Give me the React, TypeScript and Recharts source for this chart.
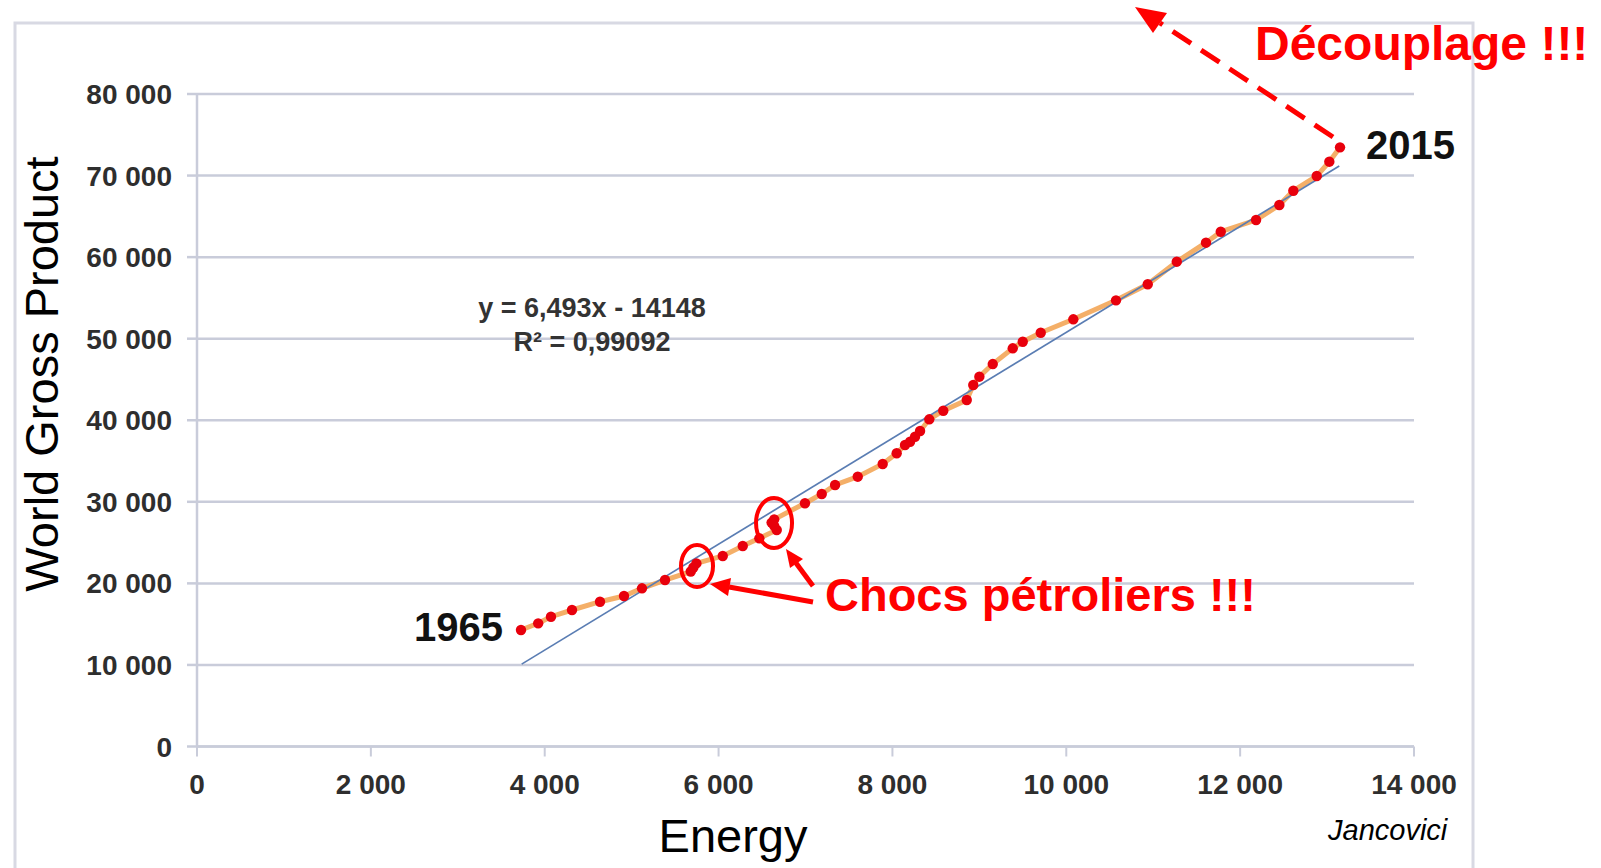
import React from 'react';
import {
  ComposedChart,
  Line,
  Scatter,
  XAxis,
  YAxis,
  CartesianGrid,
  ReferenceDot,
} from 'recharts';

// World energy vs world gross product, 1965 -> 2015
const energy = [
  3727, 3925, 4072, 4314, 4636, 4912, 5119, 5384,
  5680, 5710, 5745,
  6048, 6278, 6469,
  6669, 6640, 6610, 6640,
  6994, 7187, 7340, 7601, 7888, 8049, 8145, 8203, 8260, 8318,
  8424, 8585, 8855, 8930, 9000, 9154, 9384, 9499, 9706, 10081,
  10572, 10937, 11271, 11607, 11777, 12183, 12451, 12612, 12881, 13026, 13149,
];
const gdp = [
  14280, 15100, 15910, 16735, 17750, 18450, 19395, 20410,
  21450, 21950, 22450,
  23355, 24580, 25525,
  26540, 27050, 27450, 27850,
  29820, 30960, 32060, 33080, 34640, 35950, 36960, 37370, 37980, 38680,
  40115, 41170, 42480, 44320, 45340, 46890, 48820, 49630, 50730, 52375,
  54700, 56670, 59440, 61770, 63115, 64550, 66390, 68140, 69940, 71700, 73460,
];

// Linear trend y = 6,493x - 14148, end points as drawn
const trendEnergy = [3735, 13140];
const trendGdp = [10100, 71170];

// Oil shock circles (centres)
const shockEnergy = [5752, 6638];
const shockGdp = [22130, 27400];

const xTicks = [0, 2000, 4000, 6000, 8000, 10000, 12000, 14000];
const yTicks = [0, 10000, 20000, 30000, 40000, 50000, 60000, 70000, 80000];

const series = energy.map((e, i) => ({ energy: e, gdp: gdp[i] }));
const trend = trendEnergy.map((e, i) => ({ energy: e, gdp: trendGdp[i] }));

const FONT = '"Liberation Sans", Arial, sans-serif';
const GRID = '#c9ccda';
const RED = '#ff0000';

const fmt = (v: number) => v.toString().replace(/\B(?=(\d{3})+(?!\d))/g, ' ');

const YTick = ({ x, y, payload }: any) => (
  <text x={x} y={y} dy="0.36em" textAnchor="end" fontFamily={FONT} fontWeight="bold" fontSize={28} fill="#2e2e2e">
    {fmt(payload.value)}
  </text>
);

const XTick = ({ x, y, payload }: any) => (
  <text x={x} y={y} dy="0.71em" textAnchor="middle" fontFamily={FONT} fontWeight="bold" fontSize={28} fill="#2e2e2e">
    {fmt(payload.value)}
  </text>
);

const Dot = (p: any) => <circle cx={p.cx} cy={p.cy} r={5.2} fill="#e8000c" />;

const ellipse = (rx: number, ry: number) => (p: any) => (
  <ellipse cx={p.cx} cy={p.cy} rx={rx} ry={ry} fill="none" stroke={RED} strokeWidth={4} />
);

export default function App() {
  return (
    <div style={{ position: 'absolute', left: 0, top: 0, width: 1601, height: 868, background: '#fff' }}>
      <ComposedChart
        width={1601}
        height={868}
        margin={{ top: 94, right: 187, bottom: 61.5, left: 77 }}
      >
        <CartesianGrid horizontal vertical={false} stroke={GRID} strokeWidth={2.5} />
        <XAxis
          type="number"
          dataKey="energy"
          domain={[0, 14000]}
          ticks={xTicks}
          interval={0}
          height={60}
          tick={<XTick />}
          tickSize={10}
          tickMargin={18}
          axisLine={{ stroke: GRID, strokeWidth: 2.5 }}
          tickLine={{ stroke: GRID, strokeWidth: 2 }}
        />
        <YAxis
          type="number"
          dataKey="gdp"
          domain={[0, 80000]}
          ticks={yTicks}
          interval={0}
          width={120}
          tick={<YTick />}
          tickSize={10}
          tickMargin={15}
          axisLine={{ stroke: GRID, strokeWidth: 2.5 }}
          tickLine={{ stroke: GRID, strokeWidth: 2.5 }}
        />
        <Line
          data={series}
          dataKey="gdp"
          type="linear"
          stroke="#f3a658"
          strokeWidth={5}
          strokeOpacity={0.9}
          dot={false}
          isAnimationActive={false}
        />
        <Scatter data={series} dataKey="gdp" shape={Dot} isAnimationActive={false} />
        <Line
          data={trend}
          dataKey="gdp"
          type="linear"
          stroke="#5a7db3"
          strokeWidth={1.7}
          dot={false}
          isAnimationActive={false}
        />
        <ReferenceDot x={shockEnergy[0]} y={shockGdp[0]} r={20} shape={ellipse(16, 21)} />
        <ReferenceDot x={shockEnergy[1]} y={shockGdp[1]} r={24} shape={ellipse(18, 25)} />
      </ComposedChart>

      <svg
        width={1601}
        height={868}
        style={{ position: 'absolute', left: 0, top: 0, pointerEvents: 'none' }}
      >
        <rect x={15} y={23} width={1458} height={870} fill="none" stroke="#d8d9e3" strokeWidth={3} />

        <text
          x={58}
          y={374}
          transform="rotate(-90 58 374)"
          textAnchor="middle"
          fontFamily={FONT}
          fontSize={47}
          fill="#000"
        >
          World Gross Product
        </text>
        <text x={733} y={852} textAnchor="middle" fontFamily={FONT} fontSize={47} fill="#000">
          Energy
        </text>

        <text x={592} y={317} textAnchor="middle" fontFamily={FONT} fontWeight="bold" fontSize={27} fill="#333">
          y = 6,493x - 14148
        </text>
        <text x={592} y={351} textAnchor="middle" fontFamily={FONT} fontWeight="bold" fontSize={27} fill="#333">
          R² = 0,99092
        </text>

        <text x={503} y={641} textAnchor="end" fontFamily={FONT} fontWeight="bold" fontSize={40} fill="#111">
          1965
        </text>
        <text x={1366} y={159} fontFamily={FONT} fontWeight="bold" fontSize={40} fill="#111">
          2015
        </text>

        <text x={1328} y={840} fontFamily={FONT} fontStyle="italic" fontSize={29} fill="#000">
          Jancovici
        </text>

        {/* Découplage dashed arrow */}
        <line x1={1333} y1={137} x2={1160} y2={23} stroke={RED} strokeWidth={5} strokeDasharray="22 12" />
        <polygon points="1135,7 1153,33 1167,13" fill={RED} />
        <text x={1255} y={60} fontFamily={FONT} fontWeight="bold" fontSize={48} fill={RED}>
          Découplage !!!
        </text>

        {/* oil shock arrows */}
        <line x1={813} y1={602} x2={729} y2={587} stroke={RED} strokeWidth={5} />
        <polygon points="710,584 728,596 731,578" fill={RED} />
        <line x1={813} y1={586} x2={796} y2={563} stroke={RED} strokeWidth={5} />
        <polygon points="786,549 790,568 803,559" fill={RED} />
        <text x={825} y={611} fontFamily={FONT} fontWeight="bold" fontSize={47} fill={RED}>
          Chocs pétroliers !!!
        </text>
      </svg>
    </div>
  );
}
